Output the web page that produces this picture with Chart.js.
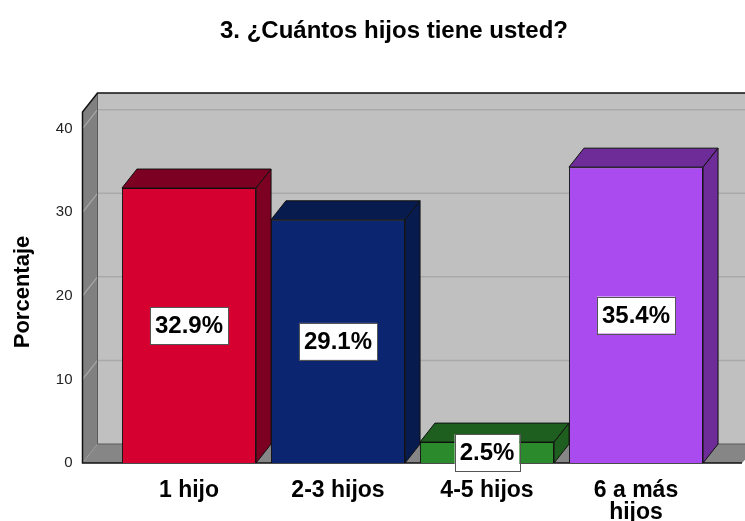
<!DOCTYPE html>
<html>
<head>
<meta charset="utf-8">
<script src="https://cdn.jsdelivr.net/npm/chart.js@4.4.0/dist/chart.umd.min.js"></script>
<style>
  html, body { margin: 0; padding: 0; background: #fff; }
  canvas { display: block; }
</style>
</head>
<body>
<canvas id="chart" width="745" height="521"></canvas>
<script>
'use strict';

/* ── DATA ── */
const categories = ['1 hijo', '2-3 hijos', '4-5 hijos', ['6 a más', 'hijos']];
const percentages = [32.9, 29.1, 2.5, 35.4];
const yTicks = [0, 10, 20, 30, 40];

const chartTitle = '3. ¿Cuántos hijos tiene usted?';
const yTitle = 'Porcentaje';

/* ── STYLE ── */
const frontColors = ['#d5002f', '#0b2570', '#2b8a2b', '#aa4bf0'];
const darkColors  = ['#7c0021', '#081b4e', '#1e5e1e', '#6d2c98'];
const DX = 15, DY = 19;          // depth of the 3D effect
const FONT = 'Arial, "Liberation Sans", sans-serif';

/* ── 3D walls behind the bars ── */
const wallsPlugin = {
  id: 'walls',
  beforeDatasetsDraw(chart) {
    const { ctx, chartArea, scales } = chart;
    const y = scales.y;
    const fl = chartArea.left - 32;          // front left edge
    const top = y.top;
    const base = y.getPixelForValue(0);
    const right = chart.width;

    ctx.save();
    // back wall
    ctx.fillStyle = '#c0c0c0';
    ctx.fillRect(fl + DX, top - DY, right - fl - DX, base - top);
    // back wall gridlines
    ctx.strokeStyle = '#a9a9a9';
    ctx.lineWidth = 1.5;
    yTicks.slice(1).forEach(v => {
      const py = y.getPixelForValue(v) - DY;
      ctx.beginPath();
      ctx.moveTo(fl + DX, py);
      ctx.lineTo(right, py);
      ctx.stroke();
    });
    // left wall
    ctx.fillStyle = '#808080';
    ctx.beginPath();
    ctx.moveTo(fl, top);
    ctx.lineTo(fl + DX, top - DY);
    ctx.lineTo(fl + DX, base - DY);
    ctx.lineTo(fl, base);
    ctx.closePath();
    ctx.fill();
    ctx.strokeStyle = '#a8a8a8';
    ctx.lineWidth = 1.2;
    yTicks.slice(1).forEach(v => {
      const py = y.getPixelForValue(v);
      ctx.beginPath();
      ctx.moveTo(fl, py);
      ctx.lineTo(fl + DX, py - DY);
      ctx.stroke();
    });
    // floor
    ctx.fillStyle = '#868686';
    ctx.beginPath();
    ctx.moveTo(fl, base);
    ctx.lineTo(fl + DX, base - DY);
    ctx.lineTo(right + DX, base - DY);
    ctx.lineTo(right - 3, base);
    ctx.closePath();
    ctx.fill();
    // outlines
    ctx.strokeStyle = '#5a5a5a';
    ctx.lineWidth = 1;
    ctx.beginPath();
    ctx.moveTo(fl + DX, top - DY);
    ctx.lineTo(fl + DX, base - DY);
    ctx.lineTo(right, base - DY);
    ctx.stroke();
    ctx.strokeStyle = '#111';
    ctx.lineWidth = 1.5;
    ctx.beginPath();
    ctx.moveTo(right, top - DY);
    ctx.lineTo(fl + DX, top - DY);
    ctx.lineTo(fl, top);
    ctx.lineTo(fl, base);
    ctx.lineTo(right - 3, base);
    ctx.stroke();
    ctx.restore();
  },

  /* top and side faces + value labels */
  afterDatasetsDraw(chart) {
    const { ctx } = chart;
    const meta = chart.getDatasetMeta(0);
    ctx.save();
    ctx.lineWidth = 1;
    ctx.strokeStyle = '#111';
    meta.data.forEach((bar, i) => {
      const l = bar.x - bar.width / 2, r = bar.x + bar.width / 2;
      const t = bar.y, b = bar.base;
      ctx.fillStyle = darkColors[i];
      // top
      ctx.beginPath();
      ctx.moveTo(l, t);
      ctx.lineTo(l + DX, t - DY);
      ctx.lineTo(r + DX, t - DY);
      ctx.lineTo(r, t);
      ctx.closePath();
      ctx.fill();
      ctx.stroke();
      // side
      ctx.beginPath();
      ctx.moveTo(r, t);
      ctx.lineTo(r + DX, t - DY);
      ctx.lineTo(r + DX, b - DY);
      ctx.lineTo(r, b);
      ctx.closePath();
      ctx.fill();
      ctx.stroke();
    });

    // value labels
    ctx.font = 'bold 24px ' + FONT;
    ctx.textAlign = 'center';
    ctx.textBaseline = 'middle';
    meta.data.forEach((bar, i) => {
      const txt = percentages[i].toFixed(1) + '%';
      const cy = (bar.y + bar.base) / 2;
      const w = ctx.measureText(txt).width + 10;
      const h = 37;
      ctx.fillStyle = '#fff';
      ctx.fillRect(bar.x - w / 2, cy - h / 2, w, h);
      ctx.strokeStyle = '#555';
      ctx.strokeRect(Math.round(bar.x - w / 2) + 0.5, Math.round(cy - h / 2) + 0.5, Math.round(w), h);
      ctx.fillStyle = '#000';
      ctx.fillText(txt, bar.x, cy + 1);
    });
    ctx.restore();
  },

  /* titles */
  afterDraw(chart) {
    const { ctx } = chart;
    ctx.save();
    ctx.fillStyle = '#000';
    ctx.textAlign = 'center';
    ctx.textBaseline = 'middle';
    ctx.font = 'bold 24px ' + FONT;
    ctx.fillText(chartTitle, 394, 31);
    ctx.font = 'bold 22px ' + FONT;
    ctx.translate(23, 292);
    ctx.rotate(-Math.PI / 2);
    ctx.fillText(yTitle, 0, 0);
    ctx.restore();
  }
};

new Chart(document.getElementById('chart'), {
  type: 'bar',
  data: {
    labels: categories,
    datasets: [{
      data: percentages,
      backgroundColor: frontColors,
      borderColor: '#111',
      borderWidth: 1,
      barPercentage: 0.9,
      categoryPercentage: 1.0
    }]
  },
  options: {
    responsive: false,
    animation: false,
    devicePixelRatio: 1,
    layout: { padding: { top: 112, right: 34.5, left: 0, bottom: 0 } },
    plugins: {
      legend: { display: false },
      tooltip: { enabled: false }
    },
    scales: {
      x: {
        grid: { display: false, drawTicks: false },
        border: { display: false },
        ticks: {
          color: '#000',
          padding: 16,
          font: { family: FONT, size: 23, weight: 'bold', lineHeight: 0.98 }
        },
        afterFit(scale) { scale.height = 58; }
      },
      y: {
        min: 0,
        max: 42,
        grid: { display: false, drawTicks: false },
        border: { display: false },
        ticks: {
          stepSize: 10,
          includeBounds: false,
          color: '#222',
          padding: 42,
          font: { family: FONT, size: 15 }
        },
        afterFit(scale) { scale.width = 114.5; }
      }
    }
  },
  plugins: [wallsPlugin]
});
</script>
</body>
</html>
